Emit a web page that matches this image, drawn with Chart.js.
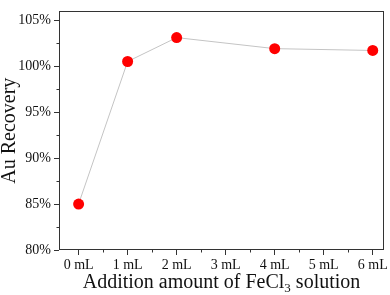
<!DOCTYPE html>
<html>
<head>
<meta charset="utf-8">
<script src="https://cdn.jsdelivr.net/npm/chart.js@4/dist/chart.umd.min.js"></script>
<style>
  html, body { margin: 0; padding: 0; background: #fff; }
</style>
</head>
<body>
<canvas id="chart" width="390" height="295"></canvas>
<script>
// FeCl3 volume added (mL) and Au recovery (%)
const doses = [0, 1, 2, 4, 6];
const recovery = [85.0, 100.5, 103.1, 101.9, 101.7];

const xTicks = [0, 1, 2, 3, 4, 5, 6];
const xTickLabels = ["0 mL", "1 mL", "2 mL", "3 mL", "4 mL", "5 mL", "6 mL"];
const xMinor = [0.5, 1.5, 2.5, 3.5, 4.5, 5.5];
const yTicks = [80, 85, 90, 95, 100, 105];
const yMinor = [82.5, 87.5, 92.5, 97.5, 102.5];

const serif = '"Liberation Serif", "Times New Roman", serif';
const axisColor = "#333";

// frame, minor ticks and the x title (with subscript)
const extras = {
  id: "extras",
  afterDraw(chart) {
    const { ctx, chartArea: a, scales } = chart;
    const x = scales.x, y = scales.y;
    ctx.save();
    ctx.strokeStyle = axisColor;
    ctx.lineWidth = 1;
    const l = Math.round(a.left) + 0.5, t = Math.round(a.top) + 0.5;
    const r = Math.round(a.right) - 0.5, b = Math.round(a.bottom) - 0.5;
    ctx.strokeRect(l, t, r - l, b - t);

    ctx.beginPath();
    xMinor.forEach(function (v) {
      const px = Math.round(x.getPixelForValue(v)) + 0.5;
      ctx.moveTo(px, b);
      ctx.lineTo(px, b + 3);
    });
    yMinor.forEach(function (v) {
      const py = Math.round(y.getPixelForValue(v)) + 0.5;
      ctx.moveTo(l, py);
      ctx.lineTo(l - 3, py);
    });
    ctx.stroke();

    // x axis title
    const big = "20px " + serif, small = "13px " + serif;
    const p1 = "Addition amount of FeCl", p2 = "3", p3 = " solution";
    ctx.font = big;
    const w1 = ctx.measureText(p1).width, w3 = ctx.measureText(p3).width;
    ctx.font = small;
    const w2 = ctx.measureText(p2).width;
    let cx = (a.left + a.right) / 2 - (w1 + w2 + w3) / 2;
    const base = 288;
    ctx.fillStyle = "#111";
    ctx.textBaseline = "alphabetic";
    ctx.textAlign = "left";
    ctx.font = big;
    ctx.fillText(p1, cx, base);
    cx += w1;
    ctx.font = small;
    ctx.fillText(p2, cx, base + 4);
    cx += w2;
    ctx.font = big;
    ctx.fillText(p3, cx, base);
    ctx.restore();
  },
};

const config = {
  type: "line",
  data: {
    datasets: [
      {
        data: doses.map(function (d, i) { return { x: d, y: recovery[i] }; }),
        borderColor: "#c4c4c4",
        borderWidth: 1,
        pointRadius: 5.5,
        pointBorderWidth: 0,
        pointBackgroundColor: "#ff0000",
        pointBorderColor: "#ff0000",
        tension: 0,
      },
    ],
  },
  options: {
    responsive: false,
    animation: false,
    layout: {
      padding: { top: 2, right: 6, left: 0, bottom: 0 },
    },
    plugins: {
      legend: { display: false },
      tooltip: { enabled: false },
    },
    scales: {
      x: {
        type: "linear",
        min: -0.4,
        max: 6.23,
        afterBuildTicks: function (scale) {
          scale.ticks = xTicks.map(function (v) { return { value: v }; });
        },
        afterFit: function (scale) {
          scale.height = 45;
        },
        ticks: {
          padding: 2,
          color: "#111",
          font: { family: serif, size: 14 },
          maxRotation: 0,
          callback: function (value) {
            return xTickLabels[xTicks.indexOf(value)];
          },
        },
        grid: {
          drawOnChartArea: false,
          tickLength: 5,
          tickColor: axisColor,
        },
        border: { display: false },
      },
      y: {
        min: 80,
        max: 105.95,
        afterBuildTicks: function (scale) {
          scale.ticks = yTicks.map(function (v) { return { value: v }; });
        },
        afterFit: function (scale) {
          scale.width = 59;
        },
        ticks: {
          padding: 3,
          color: "#111",
          font: { family: serif, size: 14 },
          callback: function (value) {
            return value + "%";
          },
        },
        title: {
          display: true,
          text: "Au Recovery",
          color: "#111",
          font: { family: serif, size: 20 },
          padding: { top: -2, bottom: 0 },
        },
        grid: {
          drawOnChartArea: false,
          tickLength: 5,
          tickColor: axisColor,
        },
        border: { display: false },
      },
    },
  },
  plugins: [extras],
};

window.onload = function () {
  const ctx = document.getElementById("chart").getContext("2d");
  window.recoveryChart = new Chart(ctx, config);
};
</script>
</body>
</html>
